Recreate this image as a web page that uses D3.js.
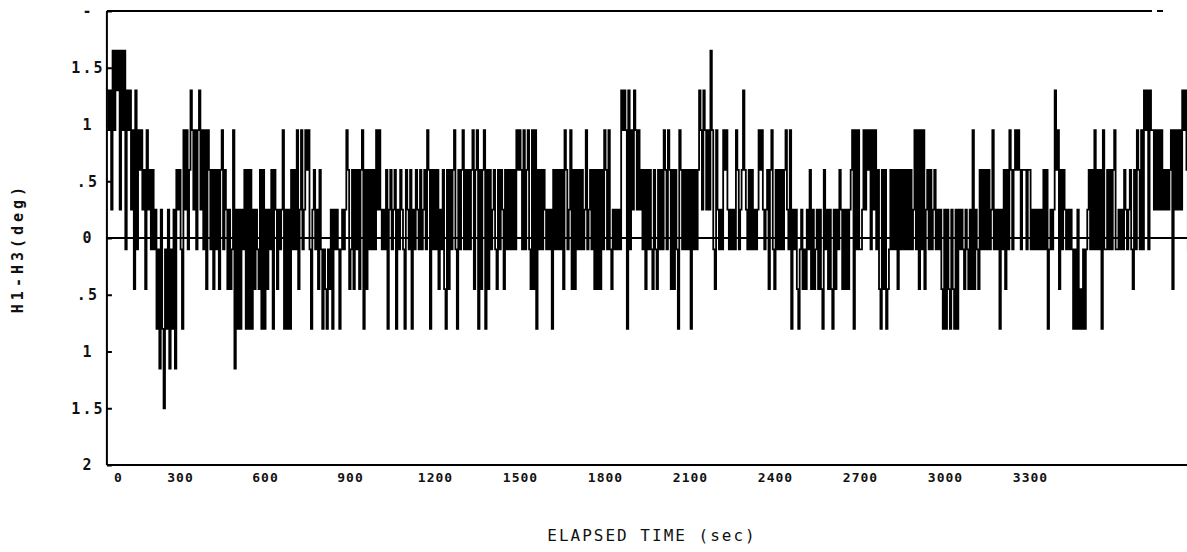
<!DOCTYPE html>
<html>
<head>
<meta charset="utf-8">
<script src="https://cdn.jsdelivr.net/npm/d3@7"></script>
<style>
  body { margin: 0; background: #fff; }
  svg { display: block; }
  text { font-family: "DejaVu Sans Mono", "Liberation Mono", monospace; fill: #111; }
</style>
</head>
<body>
<svg id="chart" width="1187" height="552"></svg>
<script>
// H1-H3 heading difference (deg), one sample every 5 s, split by start time.
const SAMPLE_STEP_S = 5;
const FIRST_SAMPLE_S = 42;

const h1h3_t0042 = [
  1.3,.95,1.3,.25, 1.65,.95,1.65,1.3,1.65,.25,1.65, .95,1.65,-.1,1.3,
  .95,1.3,.25,.95,-.45,1.3,-.1,.95, .6,.95,.25,.6,-.45,.95, .25,.6,-.1,.6,
  -.1,.25,-.8,-.1,-1.15,.25,-.8, -1.5,-.1,-.8,.25,-1.15,-.1,-.8,.25,
  -1.15,.6,.25,.6,-.1, -.8,.95,.25,.95,-.1,.6,
  1.3,.95,.25,.95,-.1,.95,1.3,.25,.95,-.1,.95,-.45,.95,
  .6,-.1,.6,-.45,.6,-.1,.6,-.45, .6,.95,-.1,.6, .25,-.45,.25,-.45,-.1,
  .95,-1.15,.25, -.8,.25,-.8,.25,-.1, .6,-.8,.6,-.8,.6,-.8,
  .25,-.45,.25,-.1,-.45, .6,-.8,.6,-.8, .25,-.45,.25,-.1, .6,-.8,.6,
  .25,-.45,.25,-.1,.25
];

const h1h3_t0662 = [
  .95,-.8, .25,-.8,.25,-.8, .6,-.1,.6,-.1, .95,-.45,.25, .95,-.1,.25,.95,
  .6,.95,-.1, -.8,.25, .6,-.1,.25,-.45,.6,-.1,-.8, -.1,-.45,-.8,-.1,-.45,.25,-.8,
  .25,-.1,.25,-.1,-.8, -.1,.25,-.1,.25, .95,.6,-.45,-.1,.6,-.45,
  .6,-.1,.6,-.45,.6,.95,-.8,.6,-.45,.6,-.1,.6,-.1,.6,-.1,
  .95,.25,.95,.25, -.1,.25,-.1,
  .6,-.8,.25,.6,-.1,.25,.6,-.8,.25,-.1,.6,.25,-.1,-.8,.6,.25,-.1,.6,-.8,.25,
  -.1,.6,.25,-.1,.6,-.1,.25,.6,-.1,.95,
  .6,-.8,.6,-.1,.6,-.1,.6,-.45, .25,-.1,.6,-.45,-.8,.6,-.45
];

const h1h3_t1252 = [
  .6,-.1,.6,.95,-.1,-.8,.6,-.1,.6,.95,-.1,.6,-.1,.6,-.1,.6,
  .95,-.45,.6,.95,-.8,.6,-.45,.6,.95,-.8,.6,-.45,
  .6,-.1,.25,.6,-.1,-.45,.6,-.1,.6,.25,-.45,.6,-.1,.6,-.1,
  .6,-.1,.6,-.1,.95,.6,.95,.6, -.1,.95,-.1,.6,.95,-.1,-.45,
  .95,-.45,.95,-.8,.6, -.1,.6,-.1,.6, .25,-.1,.25,-.1,
  .25,-.8,.6,-.1,.6,-.1,.6, -.1,.6,-.45,.95,.6,-.1, .25,.95,-.45,.6,-.45,
  .6,-.1,.6,-.1,.6,-.1, .25,.95,-.1,.25,
  .6,-.1,.6,-.45,.6,-.45,.6,-.45,.6,-.1,.95,.6,-.1,
  .95,-.1,-.45,.25,-.1, .25,-.1,.25,-.1,
  1.3,.95,1.3,.95,-.8,1.3,-.1, .95,.25,1.3,.95,.25,.95,.25
];

const h1h3_t1927 = [
  .6,-.1,.6,-.45,.6,-.1, .6,-.1,-.45,.6,-.1,-.45,.6,-.1,.6,-.1,
  .95,.6,-.1,.95,.6,-.45,.6,-.45,.6,-.1,-.8,.95,.6,-.1,.6,-.1,.6,-.1,.6,-.8,
  .6,-.1,.6,-.1,.6,
  1.3,.95,.25,1.3,.95,.25,.95,.25, 1.65,.95,-.1,-.45, .95,.25,-.1,.25,-.1,
  .95,.6,.95,.25, -.1,.25,-.1,.25,-.1, .95,.6,-.1,.25,.6, 1.3,.6,.25,-.1,
  .6,-.1,.6,-.1, .25,-.1,.25, .95,.6,.95,.25,-.1,
  .25,.6,-.45,.6,.95,-.1,-.45,.6, -.1,.6,-.1,.6,-.1,.6,
  .95,.25,-.1,.95,-.8,.25,-.1, .25,-.45,-.8,-.1,.25,-.45,-.1,-.45,
  .25,-.1,.6,-.45,.25,-.45,-.1, .25,-.45,.25,-.45,-.8,.6,-.1,
  .25,-.45,.25,-.45,-.8,.25,-.45,.25,-.1, .6,.25,-.45,.25,-.45,.25,-.45,.25,.6
];

const h1h3_t2672 = [
  .95,-.8,.95,-.1,.95,-.1, -.1,.25, .95,.25,.95,.6,.95,-.1,.95,.25,.95,
  -.1,.6,-.45,-.8,.6,-.45,.6,-.8,-.45,
  -.1,.6,-.1,.6,-.1,.6,-.45,.6,-.1,.6,-.1,.6,-.1,.6,-.1,.6,-.1,.25,
  .95,-.1,.95,-.45,.95,-.1,.95,-.45, .25,.6,-.1,.6,-.1,.25,.6,-.1,.25,-.1,.25,
  -.45,-.8,.25,-.8,.25,-.45,-.8,.25,-.45, -.8,.25,-.8,.25,-.1,.25,
  -.1,-.45,.25,-.1,-.45,.25,-.45, .95,-.45,.25,-.1,-.45,
  .6,-.1,.6,-.1,.6,-.1,.6,-.1, .25,.95,-.1,.25,-.1,.25,-.8,.25,-.1,
  .6,-.45,.6,-.1,.95,.6,-.1,.6, .95,.6,.95,.6,-.1,.6, .6,.6,-.1,.6,.6,-.1,
  .25,-.1,.25,-.1,.25,-.1,.25,-.1, .6,-.1,.6,-.8, -.1,.25,-.1,.25
];

const h1h3_t3387 = [
  1.3,.6, .95,-.45,.6, -.1,.6, .25,-.1,.25,-.1,.25,
  -.1,-.8,-.1,-.8,.25,-.8,-.45,-.8,-.1,-.8,-.1, .25,.6,-.1,.6,-.1,.95,-.1,
  .6,-.1,.6,-.8,.95, -.1,-.1, .6,-.1,.6,-.1,.6,.95, -.1,-.1,.25,-.1,.25,-.1,
  .6,.25,-.1,.25,.6,-.1, -.45,.6,-.1,.95,.6,-.1,
  .95,-.1,1.3,.95,1.3,-.1,1.3,.95, .95,.25,.95,.25,.95,.25,.95,.25,
  .6,.25,.6,.25,.6, .95,-.45,.95,.25,.95,.25,.95,.25, 1.3,.95,1.3,.6,-.1,.6
];

const xTickValues = [0, 300, 600, 900, 1200, 1500, 1800, 2100, 2400, 2700, 3000, 3300];
const xTickLabels = ["0", "300", "600", "900", "1200", "1500", "1800", "2100", "2400", "2700", "3000", "3300"];
const yTickValues = [2, 1.5, 1, 0.5, 0, -0.5, -1, -1.5, -2];
const yTickLabels = ["-", "1.5", "1", ".5", "0", ".5", "1", "1.5", "2"];

const series = [].concat(h1h3_t0042, h1h3_t0662, h1h3_t1252, h1h3_t1927, h1h3_t2672, h1h3_t3387);

const svg = d3.select("#chart");
const W = 1187;

const x = d3.scaleLinear().domain([0, 3854]).range([95, 1187]);
const y = d3.scaleLinear().domain([-2, 2]).range([465, 11]);
const plotLeft = x(FIRST_SAMPLE_S);

// clip the trace to the plotting area
svg.append("defs").append("clipPath").attr("id", "plotArea")
  .append("rect")
  .attr("x", plotLeft).attr("y", y.range()[1])
  .attr("width", W - plotLeft).attr("height", y.range()[0] - y.range()[1]);

// quantized trace drawn as steps
const line = d3.line()
  .x((d, i) => x(FIRST_SAMPLE_S + i * SAMPLE_STEP_S))
  .y(d => y(d))
  .curve(d3.curveStepAfter);

svg.append("path")
  .datum(series)
  .attr("clip-path", "url(#plotArea)")
  .attr("fill", "none")
  .attr("stroke", "#000")
  .attr("stroke-width", 1.8)
  .attr("stroke-linejoin", "miter")
  .attr("d", line);

// zero reference line
svg.append("line")
  .attr("x1", plotLeft).attr("x2", W)
  .attr("y1", y(0)).attr("y2", y(0))
  .attr("stroke", "#000").attr("stroke-width", 2);

// frame: left axis, bottom axis, top border
const frame = svg.append("g").attr("stroke", "#000").attr("stroke-width", 2).attr("fill", "none");
frame.append("line").attr("x1", plotLeft).attr("x2", plotLeft).attr("y1", y.range()[1]).attr("y2", y.range()[0]);
frame.append("line").attr("x1", plotLeft).attr("x2", W).attr("y1", y.range()[0]).attr("y2", y.range()[0]);
frame.append("line").attr("x1", plotLeft).attr("x2", 1152).attr("y1", y.range()[1]).attr("y2", y.range()[1]);
frame.append("line").attr("x1", 1157).attr("x2", 1163).attr("y1", y.range()[1]).attr("y2", y.range()[1]);

// y axis ticks and labels
const yAxis = d3.axisLeft(y)
  .tickValues(yTickValues)
  .tickFormat((d, i) => yTickLabels[i])
  .tickSize(-5)
  .tickPadding(0);

const gy = svg.append("g").attr("transform", `translate(${plotLeft},0)`).call(yAxis);
gy.select(".domain").remove();
gy.selectAll(".tick line").attr("stroke", "#000").attr("stroke-width", 2);
gy.selectAll(".tick text")
  .attr("x", -19)
  .attr("text-anchor", "middle")
  .style("font-size", "15px")
  .style("font-weight", "bold")
  .style("letter-spacing", "2px");

// x axis labels; the zero label sits just inside the left axis
const xAxis = d3.axisBottom(x)
  .tickValues(xTickValues)
  .tickFormat((d, i) => xTickLabels[i])
  .tickSize(0)
  .tickPadding(8);

const gx = svg.append("g").attr("transform", `translate(0,${y.range()[0]})`).call(xAxis);
gx.select(".domain").remove();
gx.selectAll(".tick text")
  .style("font-size", "13px")
  .style("font-weight", "bold")
  .style("letter-spacing", "1px");
gx.selectAll(".tick").filter(d => d === 0).select("text").attr("dx", plotLeft + 11 - x(0));

// axis titles
svg.append("text")
  .attr("x", 652).attr("y", 541)
  .attr("text-anchor", "middle")
  .style("font-size", "16px")
  .style("letter-spacing", "2px")
  .text("ELAPSED TIME (sec)");

svg.append("text")
  .attr("transform", "translate(23,248) rotate(-90)")
  .attr("text-anchor", "middle")
  .style("font-size", "15px")
  .style("font-weight", "bold")
  .style("letter-spacing", "4px")
  .text("H1-H3(deg)");
</script>
</body>
</html>
